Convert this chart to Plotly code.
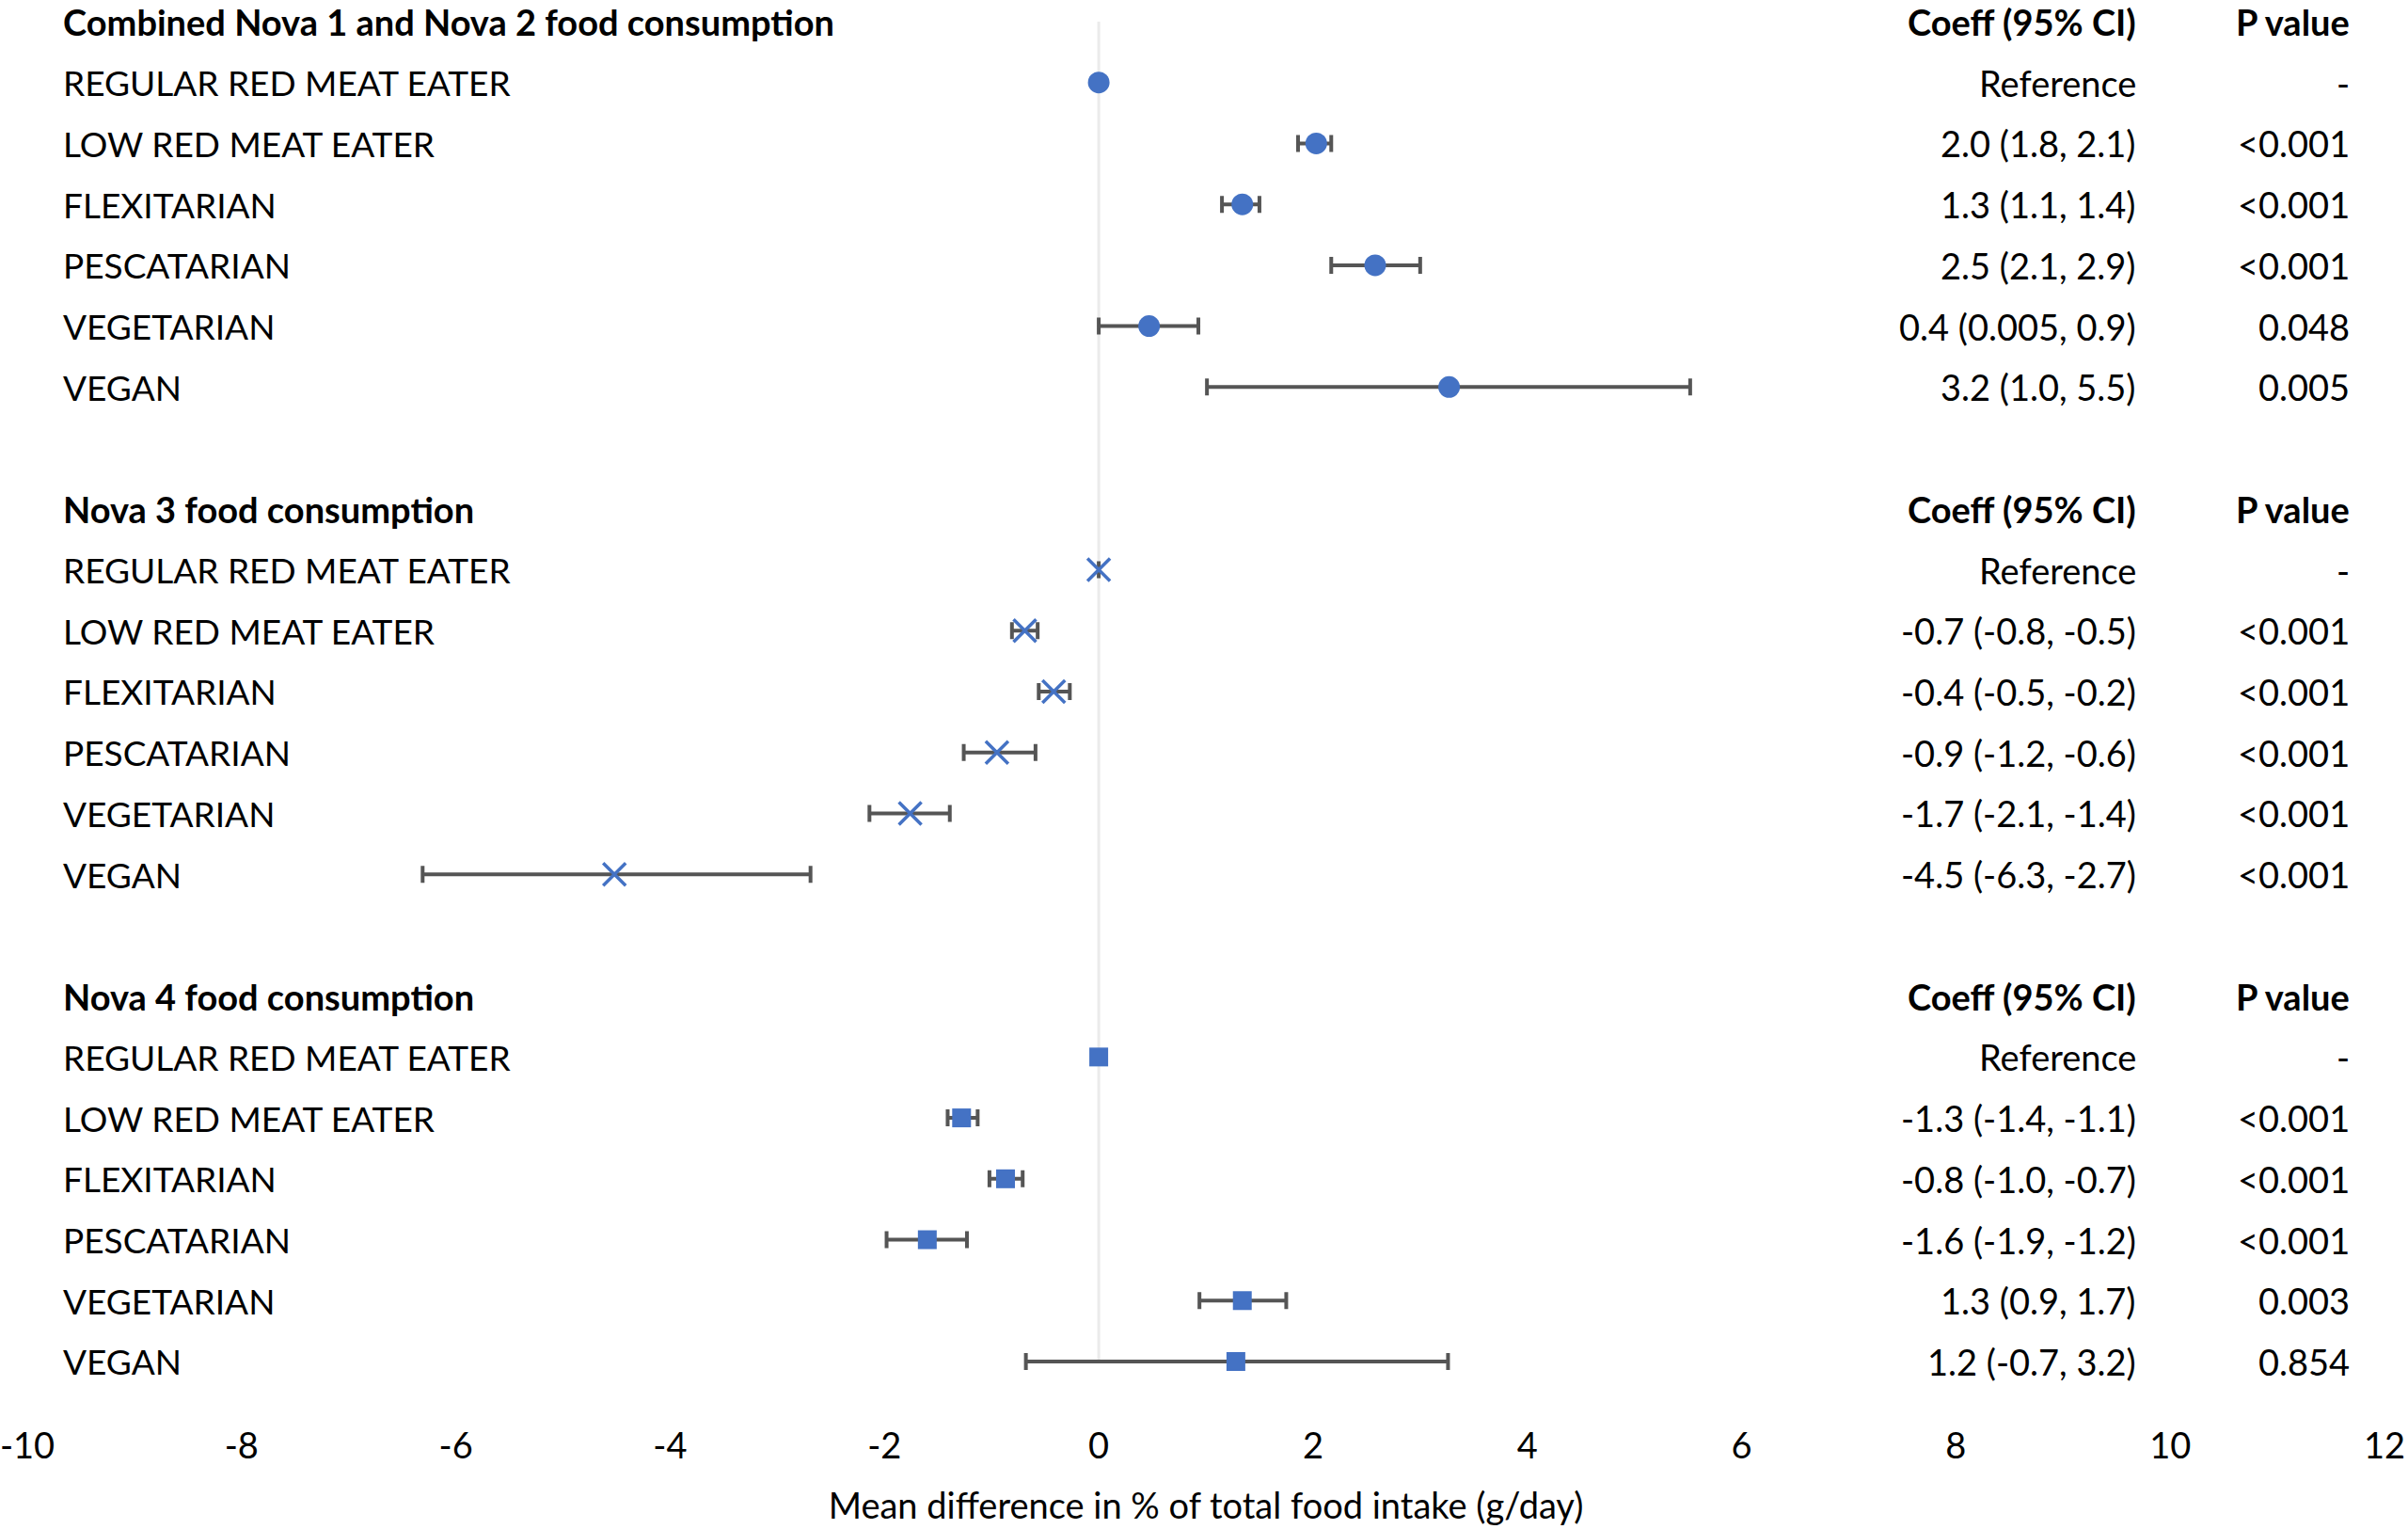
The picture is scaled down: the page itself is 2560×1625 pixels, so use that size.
import plotly.graph_objects as go

# ---------------- data ----------------
group_titles = [
    "Combined Nova 1 and Nova 2 food consumption",
    "Nova 3 food consumption",
    "Nova 4 food consumption",
]
categories = [
    "REGULAR RED MEAT EATER",
    "LOW RED MEAT EATER",
    "FLEXITARIAN",
    "PESCATARIAN",
    "VEGETARIAN",
    "VEGAN",
]
col_headers = ["Coeff (95% CI)", "P value"]

nova12_coef = [0.0, 2.03, 1.34, 2.58, 0.47, 3.27]
nova12_low = [None, 1.86, 1.15, 2.17, 0.0, 1.01]
nova12_high = [None, 2.17, 1.50, 3.00, 0.93, 5.52]
nova12_ci_text = ["Reference", "2.0 (1.8, 2.1)", "1.3 (1.1, 1.4)", "2.5 (2.1, 2.9)",
                  "0.4 (0.005, 0.9)", "3.2 (1.0, 5.5)"]
nova12_p = ["-", "<0.001", "<0.001", "<0.001", "0.048", "0.005"]

nova3_coef = [0.0, -0.69, -0.42, -0.95, -1.76, -4.52]
nova3_low = [None, -0.81, -0.56, -1.26, -2.14, -6.31]
nova3_high = [None, -0.57, -0.27, -0.59, -1.39, -2.69]
nova3_ci_text = ["Reference", "-0.7 (-0.8, -0.5)", "-0.4 (-0.5, -0.2)", "-0.9 (-1.2, -0.6)",
                 "-1.7 (-2.1, -1.4)", "-4.5 (-6.3, -2.7)"]
nova3_p = ["-", "<0.001", "<0.001", "<0.001", "<0.001", "<0.001"]

nova4_coef = [0.0, -1.28, -0.87, -1.60, 1.34, 1.28]
nova4_low = [None, -1.41, -1.02, -1.98, 0.94, -0.68]
nova4_high = [None, -1.13, -0.71, -1.23, 1.75, 3.26]
nova4_ci_text = ["Reference", "-1.3 (-1.4, -1.1)", "-0.8 (-1.0, -0.7)", "-1.6 (-1.9, -1.2)",
                 "1.3 (0.9, 1.7)", "1.2 (-0.7, 3.2)"]
nova4_p = ["-", "<0.001", "<0.001", "<0.001", "0.003", "0.854"]

x_ticks = [-10, -8, -6, -4, -2, 0, 2, 4, 6, 8, 10, 12]
x_tick_labels = ["-10", "-8", "-6", "-4", "-2", "0", "2", "4", "6", "8", "10", "12"]
x_title = "Mean difference in % of total food intake (g/day)"

# ---------------- styling ----------------
FONT = "Lato, Carlito, Calibri, sans-serif"
BLUE = "#4472C4"
ERR = "#555555"
TXT = "#000000"
FS = 38          # general text
FS_CAT = 37      # upper-case row labels
FS_HEAD = 38     # bold headers

label_x = -9.68      # left edge of row labels (data units)
ci_x = 9.70          # right edge of coefficient column
p_x = 11.69          # right edge of p value column

groups = [
    (group_titles[0], nova12_coef, nova12_low, nova12_high, nova12_ci_text, nova12_p,
     dict(symbol="circle", size=23, color=BLUE)),
    (group_titles[1], nova3_coef, nova3_low, nova3_high, nova3_ci_text, nova3_p,
     dict(symbol="x-thin-open", size=24, color=BLUE, line=dict(color=BLUE, width=3.5))),
    (group_titles[2], nova4_coef, nova4_low, nova4_high, nova4_ci_text, nova4_p,
     dict(symbol="square", size=20, color=BLUE)),
]


def ann(x, y, text, anchor, size):
    return dict(x=x, y=y, text=text, xanchor=anchor, xref="x", yref="y",
                yanchor="middle", showarrow=False,
                font=dict(family=FONT, size=size, color=TXT))


fig = go.Figure()
annotations = []
row = 0
for title, coef, low, high, ci_text, pvals, marker in groups:
    header_row = row
    rows = [header_row + 1 + i for i in range(len(categories))]
    plus = [(h - c) if h is not None else None for c, h in zip(coef, high)]
    minus = [(c - l) if l is not None else None for c, l in zip(coef, low)]
    fig.add_trace(go.Scatter(
        x=coef, y=rows, mode="markers", marker=marker, showlegend=False,
        error_x=dict(type="data", symmetric=False, array=plus, arrayminus=minus,
                     color=ERR, thickness=4, width=9),
    ))
    annotations.append(ann(label_x, header_row, "<b>" + title + "</b>", "left", FS_HEAD))
    annotations.append(ann(ci_x, header_row, "<b>" + col_headers[0] + "</b>", "right", FS_HEAD))
    annotations.append(ann(p_x, header_row, "<b>" + col_headers[1] + "</b>", "right", FS_HEAD))
    for r, cat, ct, pv in zip(rows, categories, ci_text, pvals):
        annotations.append(ann(label_x, r, cat, "left", FS_CAT))
        annotations.append(ann(ci_x, r, ct, "right", FS))
        annotations.append(ann(p_x, r, pv, "right", FS))
    row = rows[-1] + 2

last_row = row - 2

fig.add_shape(type="line", xref="x", yref="y", x0=0, x1=0, y0=0, y1=last_row,
              line=dict(color="#EBEBEB", width=3), layer="below")

fig.update_layout(
    width=2560, height=1625,
    margin=dict(l=29, r=25, t=0, b=145),
    paper_bgcolor="white", plot_bgcolor="white",
    font=dict(family=FONT, size=FS, color=TXT),
    annotations=annotations,
    xaxis=dict(range=[-10, 12], tickvals=x_ticks, ticktext=x_tick_labels,
               showgrid=False, zeroline=False, showline=False, ticks="",
               ticklabelstandoff=31, ticklabeloverflow="allow",
               tickfont=dict(family=FONT, size=FS, color=TXT),
               title=dict(text=x_title, font=dict(family=FONT, size=FS, color=TXT),
                          standoff=30)),
    yaxis=dict(range=[last_row + 0.51, -0.355], showgrid=False, zeroline=False,
               showline=False, showticklabels=False, ticks=""),
)

fig.write_html("out.html", config={"displayModeBar": False},
               post_script="document.body.style.margin='0';")
